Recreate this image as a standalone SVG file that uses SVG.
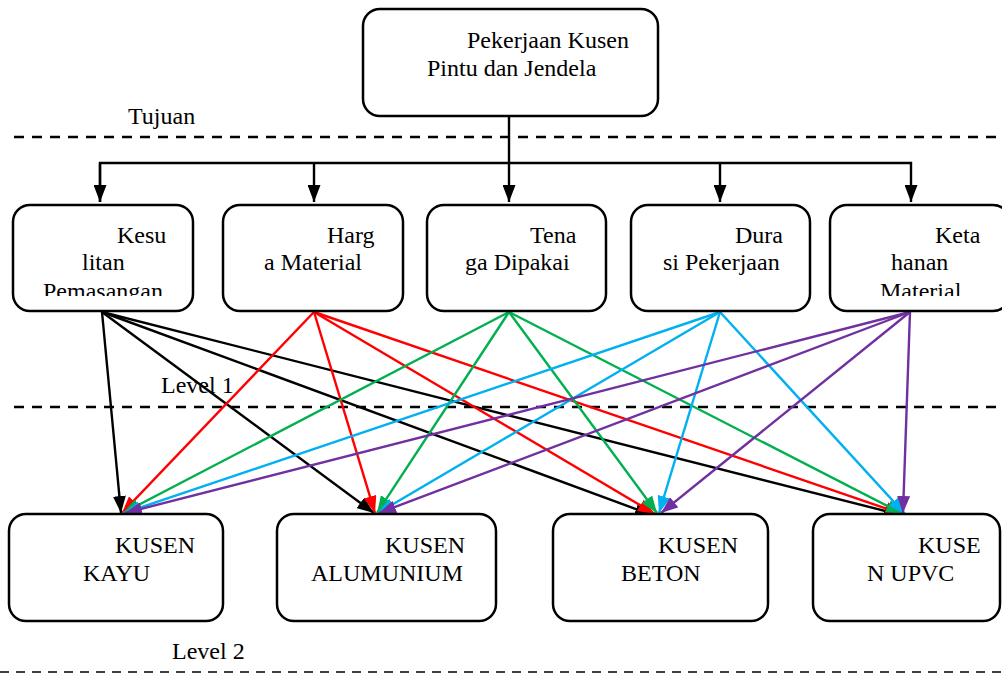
<svg xmlns="http://www.w3.org/2000/svg" width="1002" height="674" viewBox="0 0 1002 674">
<style>
.box{fill:#fff;stroke:#000;stroke-width:2.5}
.t{font-family:"Liberation Serif","Times New Roman",serif;font-size:24px;fill:#000}
.lbl{font-family:"Liberation Serif","Times New Roman",serif;font-size:24px;fill:#000}
.dash{stroke:#000;stroke-width:2.6;stroke-dasharray:10 8;fill:none}
.dash2{stroke:#000;stroke-width:1.5;stroke-dasharray:9 7;fill:none}
.c{fill:none;stroke-width:2.4}
.k{stroke:#000}.r{stroke:#ff0000}.g{stroke:#00b050}.b{stroke:#00b0f0}.p{stroke:#7030a0}
</style>
<defs>
<marker id="ak" markerUnits="userSpaceOnUse" markerWidth="17" markerHeight="13" refX="17" refY="6.5" orient="auto"><path d="M0,0 L17,6.5 L0,13 z" fill="#000"/></marker>
<marker id="ar" markerUnits="userSpaceOnUse" markerWidth="17" markerHeight="13" refX="17" refY="6.5" orient="auto"><path d="M0,0 L17,6.5 L0,13 z" fill="#ff0000"/></marker>
<marker id="ag" markerUnits="userSpaceOnUse" markerWidth="17" markerHeight="13" refX="17" refY="6.5" orient="auto"><path d="M0,0 L17,6.5 L0,13 z" fill="#00b050"/></marker>
<marker id="ab" markerUnits="userSpaceOnUse" markerWidth="17" markerHeight="13" refX="17" refY="6.5" orient="auto"><path d="M0,0 L17,6.5 L0,13 z" fill="#00b0f0"/></marker>
<marker id="ap" markerUnits="userSpaceOnUse" markerWidth="17" markerHeight="13" refX="17" refY="6.5" orient="auto"><path d="M0,0 L17,6.5 L0,13 z" fill="#7030a0"/></marker>
<clipPath id="clipB1"><rect x="13" y="205" width="180" height="91"/></clipPath>
<clipPath id="clipB5"><rect x="830" y="205" width="180" height="91"/></clipPath>
</defs>

<g id="level-lines">
<line class="dash" x1="14" y1="137" x2="1002" y2="137"/>
<line class="dash" x1="14" y1="407" x2="1002" y2="407"/>
<line class="dash2" x1="0" y1="672" x2="1002" y2="672"/>
<text class="lbl" x="128" y="124">Tujuan</text>
<text class="lbl" x="161" y="393">Level 1</text>
<text class="lbl" x="172" y="659">Level 2</text>
</g>

<g id="connectors">
<g class="c k">
<line x1="509" y1="116" x2="509" y2="202" marker-end="url(#ak)"/>
<polyline points="100,202 100,163 911,163 911,202" marker-end="url(#ak)"/>
<line x1="100" y1="163" x2="100" y2="202" marker-end="url(#ak)"/>
<line x1="314" y1="163" x2="314" y2="202" marker-end="url(#ak)"/>
<line x1="720" y1="163" x2="720" y2="202" marker-end="url(#ak)"/>
</g>
<g class="c k">
<line x1="102" y1="312" x2="121" y2="513" marker-end="url(#ak)"/>
<line x1="102" y1="312" x2="374" y2="513" marker-end="url(#ak)"/>
<line x1="102" y1="312" x2="652" y2="515" marker-end="url(#ak)"/>
<line x1="102" y1="312" x2="901" y2="515" marker-end="url(#ak)"/>
</g>
<g class="c r">
<line x1="314" y1="312" x2="122" y2="513" marker-end="url(#ar)"/>
<line x1="314" y1="312" x2="375" y2="513" marker-end="url(#ar)"/>
<line x1="314" y1="312" x2="655" y2="514" marker-end="url(#ar)"/>
<line x1="314" y1="312" x2="902" y2="514" marker-end="url(#ar)"/>
</g>
<g class="c g">
<line x1="509" y1="312" x2="123" y2="513" marker-end="url(#ag)"/>
<line x1="509" y1="312" x2="377" y2="513" marker-end="url(#ag)"/>
<line x1="509" y1="312" x2="657" y2="513" marker-end="url(#ag)"/>
<line x1="509" y1="312" x2="903" y2="514" marker-end="url(#ag)"/>
</g>
<g class="c b">
<line x1="720" y1="312" x2="124" y2="513" marker-end="url(#ab)"/>
<line x1="720" y1="312" x2="378" y2="513" marker-end="url(#ab)"/>
<line x1="720" y1="312" x2="659" y2="513" marker-end="url(#ab)"/>
<line x1="720" y1="312" x2="905" y2="514" marker-end="url(#ab)"/>
</g>
<g class="c p">
<line x1="910" y1="312" x2="125" y2="513" marker-end="url(#ap)"/>
<line x1="910" y1="312" x2="379" y2="513" marker-end="url(#ap)"/>
<line x1="910" y1="312" x2="661" y2="513" marker-end="url(#ap)"/>
<line x1="910" y1="312" x2="903" y2="513" marker-end="url(#ap)"/>
</g>
</g>

<g id="goal">
<rect class="box" x="363" y="9" width="295" height="107" rx="17"/>
<text class="t" x="467" y="48">Pekerjaan Kusen</text>
<text class="t" x="427" y="76">Pintu dan Jendela</text>
</g>

<g id="c1">
<rect class="box" x="13" y="205" width="180" height="106" rx="17"/>
<text class="t" x="117" y="243">Kesu</text>
<text class="t" x="82" y="270">litan</text>
<text class="t" x="43" y="299" clip-path="url(#clipB1)">Pemasangan</text>
</g>
<g id="c2">
<rect class="box" x="223" y="205" width="180" height="106" rx="17"/>
<text class="t" x="327" y="243">Harg</text>
<text class="t" x="264" y="270">a Material</text>
</g>
<g id="c3">
<rect class="box" x="427" y="205" width="179" height="106" rx="17"/>
<text class="t" x="530" y="243">Tena</text>
<text class="t" x="465" y="270">ga Dipakai</text>
</g>
<g id="c4">
<rect class="box" x="631" y="205" width="179" height="106" rx="17"/>
<text class="t" x="735" y="243">Dura</text>
<text class="t" x="663" y="270">si Pekerjaan</text>
</g>
<g id="c5">
<rect class="box" x="830" y="205" width="180" height="106" rx="17"/>
<text class="t" x="935" y="243">Keta</text>
<text class="t" x="891" y="270">hanan</text>
<text class="t" x="880" y="299" clip-path="url(#clipB5)">Material</text>
</g>

<g id="a1">
<rect class="box" x="9" y="514" width="214" height="107" rx="17"/>
<text class="t" x="115" y="553">KUSEN</text>
<text class="t" x="83" y="581">KAYU</text>
</g>
<g id="a2">
<rect class="box" x="277" y="514" width="219" height="107" rx="17"/>
<text class="t" x="385" y="553">KUSEN</text>
<text class="t" x="311" y="581">ALUMUNIUM</text>
</g>
<g id="a3">
<rect class="box" x="553" y="514" width="215" height="107" rx="17"/>
<text class="t" x="658" y="553">KUSEN</text>
<text class="t" x="621" y="581">BETON</text>
</g>
<g id="a4">
<rect class="box" x="813" y="514" width="187" height="107" rx="17"/>
<text class="t" x="918" y="553">KUSE</text>
<text class="t" x="867" y="581">N UPVC</text>
</g>
</svg>
